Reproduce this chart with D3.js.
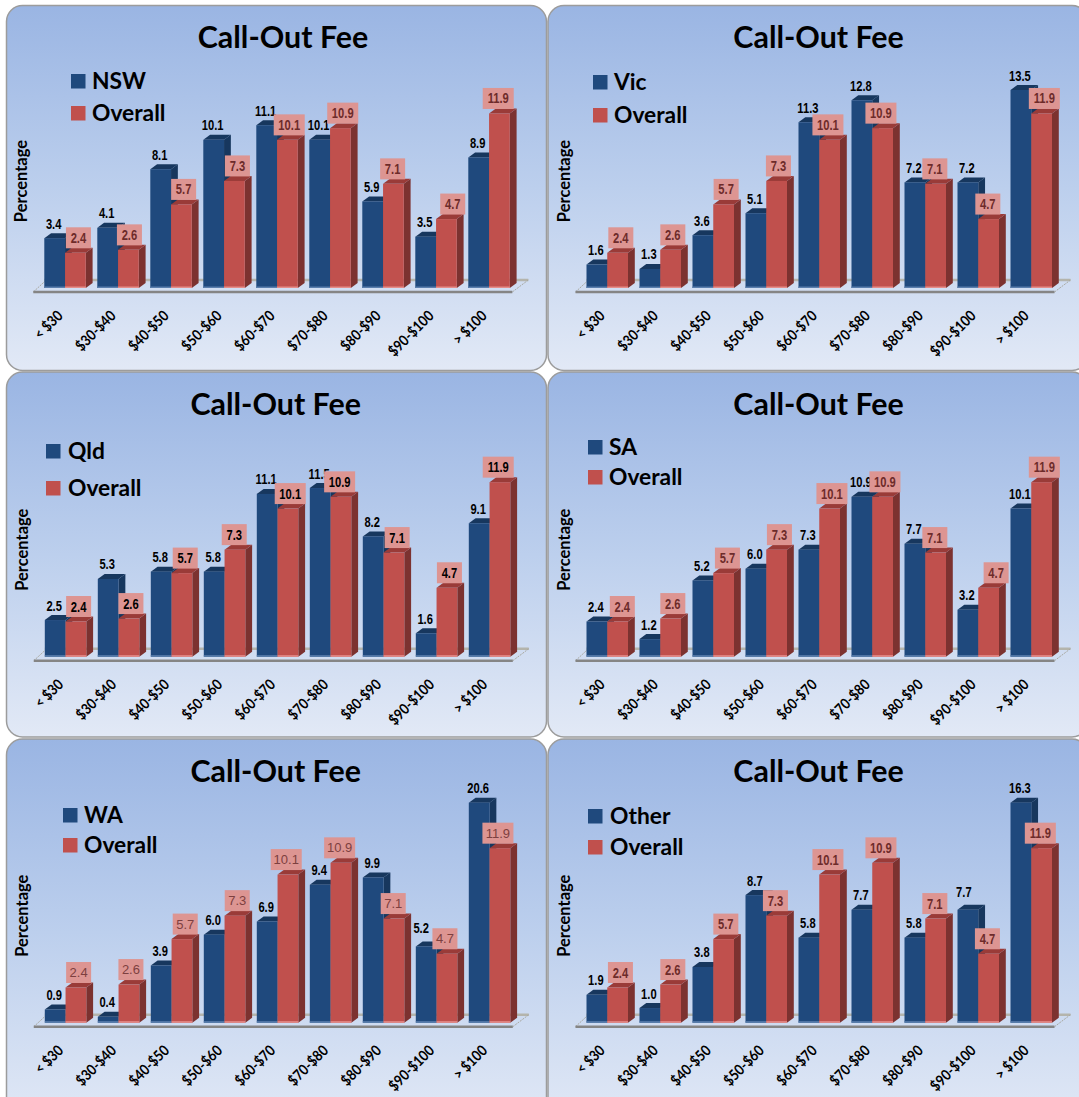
<!DOCTYPE html>
<html>
<head>
<meta charset="utf-8">
<script src="https://cdn.jsdelivr.net/npm/d3@7"></script>
<style>
  html, body { margin: 0; padding: 0; background: #fff; overflow: hidden; }
  text { fill: #000; }
</style>
</head>
<body>
<script>
var categories = ["< $30", "$30-$40", "$40-$50", "$50-$60", "$60-$70", "$70-$80", "$80-$90", "$90-$100", "> $100"];
var overall = [2.4, 2.6, 5.7, 7.3, 10.1, 10.9, 7.1, 4.7, 11.9];
var nsw = [3.4, 4.1, 8.1, 10.1, 11.1, 10.1, 5.9, 3.5, 8.9];
var vic = [1.6, 1.3, 3.6, 5.1, 11.3, 12.8, 7.2, 7.2, 13.5];
var qld = [2.5, 5.3, 5.8, 5.8, 11.1, 11.5, 8.2, 1.6, 9.1];
var sa = [2.4, 1.2, 5.2, 6.0, 7.3, 10.9, 7.7, 3.2, 10.1];
var wa = [0.9, 0.4, 3.9, 6.0, 6.9, 9.4, 9.9, 5.2, 20.6];
var other = [1.9, 1.0, 3.8, 8.7, 5.8, 7.7, 5.8, 7.7, 16.3];

// the chart's axis stops at 15, taller bars get cut off there
var yMax = 15;
var title = "Call-Out Fee";

// where each panel sits. the pink boxes were hand placed in the original so they get a shift each
var panels = [
  { name: "NSW", values: nsw, left: 6.5, top: 5.5, bottom: 370.5, barX: 44.3, base: 288, titleX: 283, titleY: 48,
    legX: 71, legY: [74, 106], legText: 92, boxShift: [3, 1, 2.2, 3, 1.8, 2.3, -0.8, 6.3, -1.2], textColor: "#6d2b2a" },
  { name: "Vic", values: vic, left: 548, top: 5.5, bottom: 370.5, barX: 586.5, base: 288, titleX: 818.6, titleY: 48,
    legX: 593, legY: [75, 108], legText: 614, boxShift: [3.2, 2.2, 2.5, 1.8, -1.7, -1.7, -0.8, -0.8, 2.7], textColor: "#6d2b2a" },
  { name: "Qld", values: qld, left: 6.5, top: 372, bottom: 737, barX: 44.8, base: 656.7, titleX: 275.7, titleY: 415,
    legX: 46, legY: [444, 481], legText: 68, boxShift: [2.7, 2, 3.3, -0.7, 2.3, -1.3, 3.2, 2.5, -1.7], textColor: "#000" },
  { name: "SA", values: sa, left: 548, top: 372, bottom: 737, barX: 586.5, base: 656.7, titleX: 818.6, titleY: 415,
    legX: 588, legY: [440, 470], legText: 609, boxShift: [4.7, 2.2, 3.8, 2.8, 2.3, 2.3, -0.8, 7.5, 2.7], textColor: "#6d2b2a" },
  { name: "WA", values: wa, left: 6.5, top: 739, bottom: 1125, barX: 44.8, base: 1022.7, titleX: 275.7, titleY: 782,
    legX: 63, legY: [808, 838], legText: 84, boxShift: [2.7, 2, 3.3, 2.3, -1.7, -1.3, -0.7, -2, -2], textColor: "#7d4040", plainBox: true },
  { name: "Other", values: other, left: 548, top: 739, bottom: 1125, barX: 586.5, base: 1022.7, titleX: 818.6, titleY: 782,
    legX: 588, legY: [809, 840], legText: 610, boxShift: [2.8, 2.2, 2.2, -1.2, -1.7, -1.7, -0.8, -1.2, -1.3], textColor: "#6d2b2a" }
];

// a few navy labels were dragged away from their bars
var navyNudge = { "WA-7": [-4, -4], "Other-7": [-3, -3.5] };

var blue = { front: "#1f497d", top: "#17375e", side: "#17375e", foot: "#5b7fae" };
var red = { front: "#c0504d", top: "#9a3b38", side: "#7c3230", foot: "#e58d8a" };

var step = 53, barW = 20.75, depthX = 6.8, depthY = 5;
var labelFont = "'Liberation Sans', sans-serif";
var chartFont = "Lato, 'Open Sans', sans-serif";
// no narrow font here, so squeeze the bold one sideways
var squeeze = "scale(0.86,1.1)";

var svg = d3.select("body").append("svg")
  .attr("width", 1079)
  .attr("height", 1097)
  .style("display", "block");

var grad = svg.append("defs").append("linearGradient")
  .attr("id", "panelFill")
  .attr("x1", 0).attr("y1", 0).attr("x2", 0).attr("y2", 1);
grad.append("stop").attr("offset", "0%").attr("stop-color", "#9ab5e3");
grad.append("stop").attr("offset", "50%").attr("stop-color", "#bccfed");
grad.append("stop").attr("offset", "100%").attr("stop-color", "#e2e9f6");

function drawBars(g, p, x, y, values, offset, colors) {
  var bars = g.append("g").selectAll("g")
    .data(values)
    .enter().append("g");

  function front(i) { return x(categories[i]) + offset; }

  bars.append("polygon")
    .attr("fill", colors.side)
    .attr("points", function (d, i) {
      var r = front(i) + barW;
      return [[r, y(d)], [r + depthX, y(d) - depthY], [r + depthX, p.base - depthY], [r, p.base]].join(" ");
    });
  bars.append("polygon")
    .attr("fill", colors.top)
    .attr("points", function (d, i) {
      var l = front(i);
      return [[l, y(d)], [l + depthX, y(d) - depthY], [l + barW + depthX, y(d) - depthY], [l + barW, y(d)]].join(" ");
    });
  bars.append("rect")
    .attr("x", function (d, i) { return front(i); })
    .attr("y", function (d) { return y(d); })
    .attr("width", barW)
    .attr("height", function (d) { return p.base - y(d); })
    .attr("fill", colors.front);
  bars.append("rect")
    .attr("x", function (d, i) { return front(i); })
    .attr("y", p.base - 1.5)
    .attr("width", barW)
    .attr("height", 1.5)
    .attr("fill", colors.foot);
}

panels.forEach(function (p) {
  var g = svg.append("g");

  var x = d3.scaleBand()
    .domain(categories)
    .range([p.barX, p.barX + step * (categories.length - 1) + barW * 2])
    .paddingInner(1 - barW * 2 / step)
    .paddingOuter(0);

  var y = d3.scaleLinear()
    .domain([0, yMax])
    .range([p.base, p.base - 220])
    .clamp(true);

  g.append("rect")
    .attr("x", p.left)
    .attr("y", p.top)
    .attr("width", 540)
    .attr("height", p.bottom - p.top)
    .attr("rx", 16)
    .attr("fill", "url(#panelFill)")
    .attr("stroke", "#9c9c9c")
    .attr("stroke-width", 1.5);

  g.append("text")
    .attr("x", p.titleX)
    .attr("y", p.titleY)
    .attr("text-anchor", "middle")
    .style("font-family", chartFont)
    .style("font-weight", 700)
    .style("font-size", "30.4px")
    .text(title);

  [p.name, "Overall"].forEach(function (s, i) {
    g.append("rect")
      .attr("x", p.legX)
      .attr("y", p.legY[i])
      .attr("width", 14.5)
      .attr("height", 14.5)
      .attr("fill", i == 0 ? blue.front : red.front);
    g.append("text")
      .attr("x", p.legText)
      .attr("y", p.legY[i] + 15)
      .style("font-family", chartFont)
      .style("font-weight", 700)
      .style("font-size", "22.8px")
      .text(s);
  });

  g.append("text")
    .attr("transform", "translate(" + (p.barX - 17) + "," + (p.base - 107) + ") rotate(-90)")
    .attr("text-anchor", "middle")
    .style("font-family", chartFont)
    .style("font-weight", 700)
    .style("font-size", "16.5px")
    .text("Percentage");

  // floor of the 3d plot
  var floorL = p.barX - 11, floorR = p.barX + 468;
  var floorFront = p.base + 4, floorBack = p.base - 8;
  g.append("line")
    .attr("x1", p.barX).attr("x2", floorR + 16)
    .attr("y1", floorBack).attr("y2", floorBack)
    .attr("stroke", "#b4b4ac").attr("stroke-width", 2.5);
  g.append("line")
    .attr("x1", floorL).attr("x2", floorL + 13)
    .attr("y1", floorFront).attr("y2", floorBack)
    .attr("stroke", "#a8a8a0").attr("stroke-width", 1).attr("stroke-dasharray", "2,1");
  g.append("line")
    .attr("x1", floorR).attr("x2", floorR + 16)
    .attr("y1", floorFront).attr("y2", floorBack)
    .attr("stroke", "#a8a8a0").attr("stroke-width", 1).attr("stroke-dasharray", "2,1");
  g.append("line")
    .attr("x1", floorL).attr("x2", floorR)
    .attr("y1", floorFront).attr("y2", floorFront)
    .attr("stroke", "#858585").attr("stroke-width", 2.5);

  drawBars(g, p, x, y, p.values, 0, blue);
  drawBars(g, p, x, y, overall, barW, red);

  var axis = g.append("g")
    .attr("transform", "translate(0," + p.base + ")")
    .call(d3.axisBottom(x).tickSize(0));
  axis.select(".domain").remove();
  axis.selectAll("text")
    .attr("x", 0)
    .attr("y", 0)
    .attr("dy", "0.35em")
    .attr("transform", "translate(-5,25) rotate(-45) scale(0.96,1.1)")
    .style("text-anchor", "end")
    .style("font-family", chartFont)
    .style("font-weight", 700)
    .style("font-size", "13.5px");

  // labels go last so the pink boxes can sit over bars and navy labels
  g.append("g").selectAll("text")
    .data(p.values)
    .enter().append("text")
    .attr("transform", function (d, i) {
      var n = navyNudge[p.name + "-" + i];
      var tx = x(categories[i]) + barW / 2 - 1 + (n ? n[0] : 0);
      var ty = y(d) - 14.5 + (n ? n[1] : 0);
      return "translate(" + tx + "," + ty + ") " + squeeze;
    })
    .attr("dy", "0.35em")
    .attr("text-anchor", "middle")
    .style("font-family", labelFont)
    .style("font-weight", 700)
    .style("font-size", "13px")
    .text(function (d) { return d.toFixed(1); });

  var boxes = g.append("g").selectAll("g")
    .data(overall)
    .enter().append("g")
    .attr("transform", function (d, i) {
      return "translate(" + (x(categories[i]) + barW * 1.5 + p.boxShift[i]) + "," + (y(d) - 4.5) + ")";
    });
  boxes.append("rect")
    .attr("x", function (d) { return d >= 10 ? -15.5 : -12.5; })
    .attr("y", -21)
    .attr("width", function (d) { return d >= 10 ? 31 : 25; })
    .attr("height", 21)
    .attr("fill", "#dd9592");
  boxes.append("text")
    .attr("transform", "translate(0,-10.5) " + (p.plainBox ? "" : squeeze))
    .attr("dy", "0.35em")
    .attr("text-anchor", "middle")
    .style("font-family", labelFont)
    .style("font-weight", p.plainBox ? 400 : 700)
    .style("font-size", "13px")
    .style("fill", p.textColor)
    .text(function (d) { return d.toFixed(1); });
});
</script>
</body>
</html>
